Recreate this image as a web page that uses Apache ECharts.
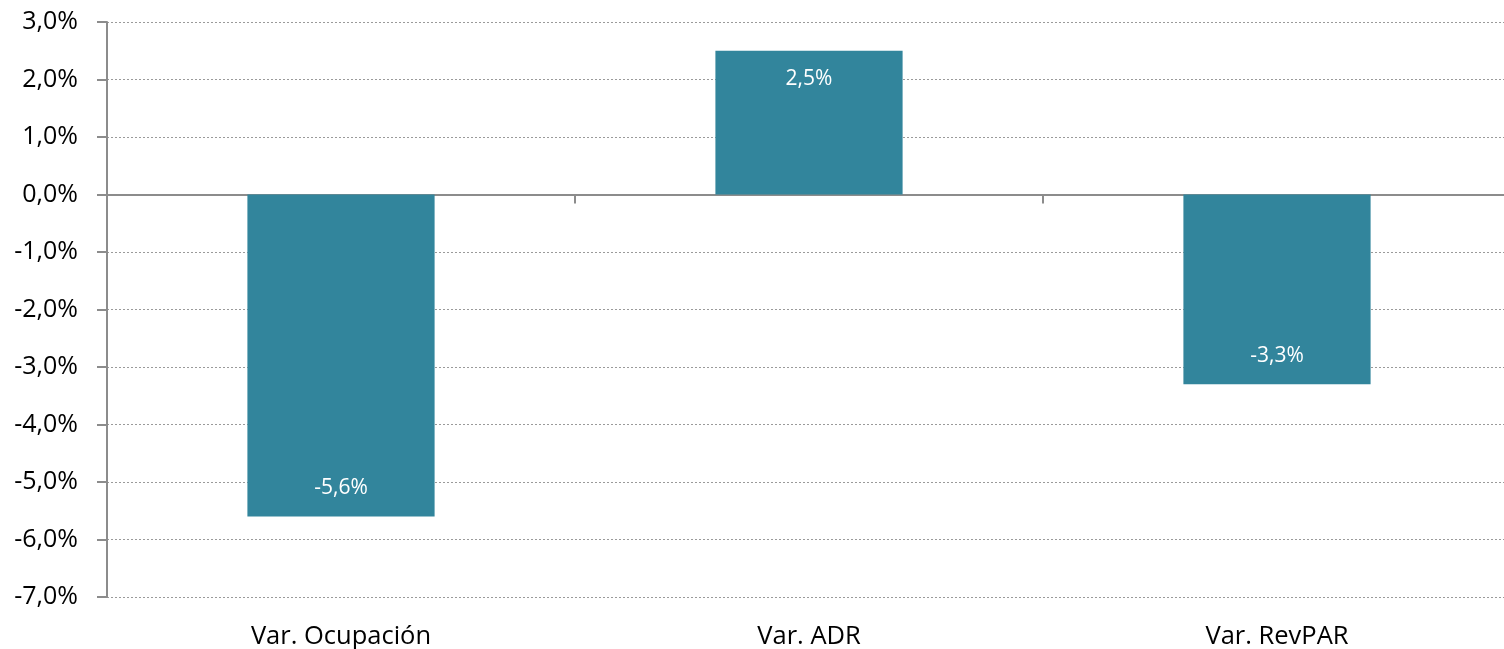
<!DOCTYPE html>
<html>
<head>
<meta charset="utf-8">
<script src="https://cdn.jsdelivr.net/npm/echarts@6/dist/echarts.min.js"></script>
<style>
  html, body { margin: 0; padding: 0; background: #fff; overflow: hidden; }
  #chart { width: 1504px; height: 649px; }
</style>
</head>
<body>
<div id="chart"></div>
<script>
// categories and values (percent)
var categories = ['Var. Ocupación', 'Var. ADR', 'Var. RevPAR'];
var values = [-5.6, 2.5, -3.3];

function pct(v) {
    return v.toFixed(1).replace('.', ',') + '%';
}

var chart = echarts.init(document.getElementById('chart'));
chart.setOption({
    animation: false,
    textStyle: { fontFamily: 'Open Sans' },
    grid: { left: 107, right: -7, top: 22, bottom: 52, outerBoundsMode: 'none' },
    xAxis: [{
        type: 'category',
        data: categories,
        axisLine: { onZero: true, lineStyle: { color: '#8c8c8c', width: 2 } },
        axisTick: { show: true, length: 9, lineStyle: { color: '#8c8c8c', width: 2 } },
        axisLabel: { show: false }
    }, {
        type: 'category',
        data: categories,
        position: 'bottom',
        axisLine: { show: false, onZero: false },
        axisTick: { show: false },
        axisLabel: { color: '#000', fontSize: 25.5, margin: 27 }
    }],
    yAxis: {
        type: 'value',
        min: -7,
        max: 3,
        interval: 1,
        axisLine: { show: true, lineStyle: { color: '#8c8c8c', width: 2 } },
        axisTick: { show: true, length: 10, lineStyle: { color: '#8c8c8c', width: 2 } },
        axisLabel: { color: '#000', fontSize: 25, margin: 29, formatter: pct },
        splitLine: { lineStyle: { color: '#9a9a9a', type: [2, 2], width: 1 } }
    },
    series: [{
        type: 'bar',
        xAxisIndex: 0,
        barWidth: '40%',
        itemStyle: { color: '#32859c' },
        data: values.map(function (v) {
            return {
                value: v,
                label: { position: v >= 0 ? 'insideTop' : 'insideBottom' }
            };
        }),
        label: {
            show: true,
            color: '#fff',
            fontSize: 21,
            distance: 18,
            formatter: function (p) { return pct(p.value); }
        }
    }]
});
</script>
</body>
</html>
